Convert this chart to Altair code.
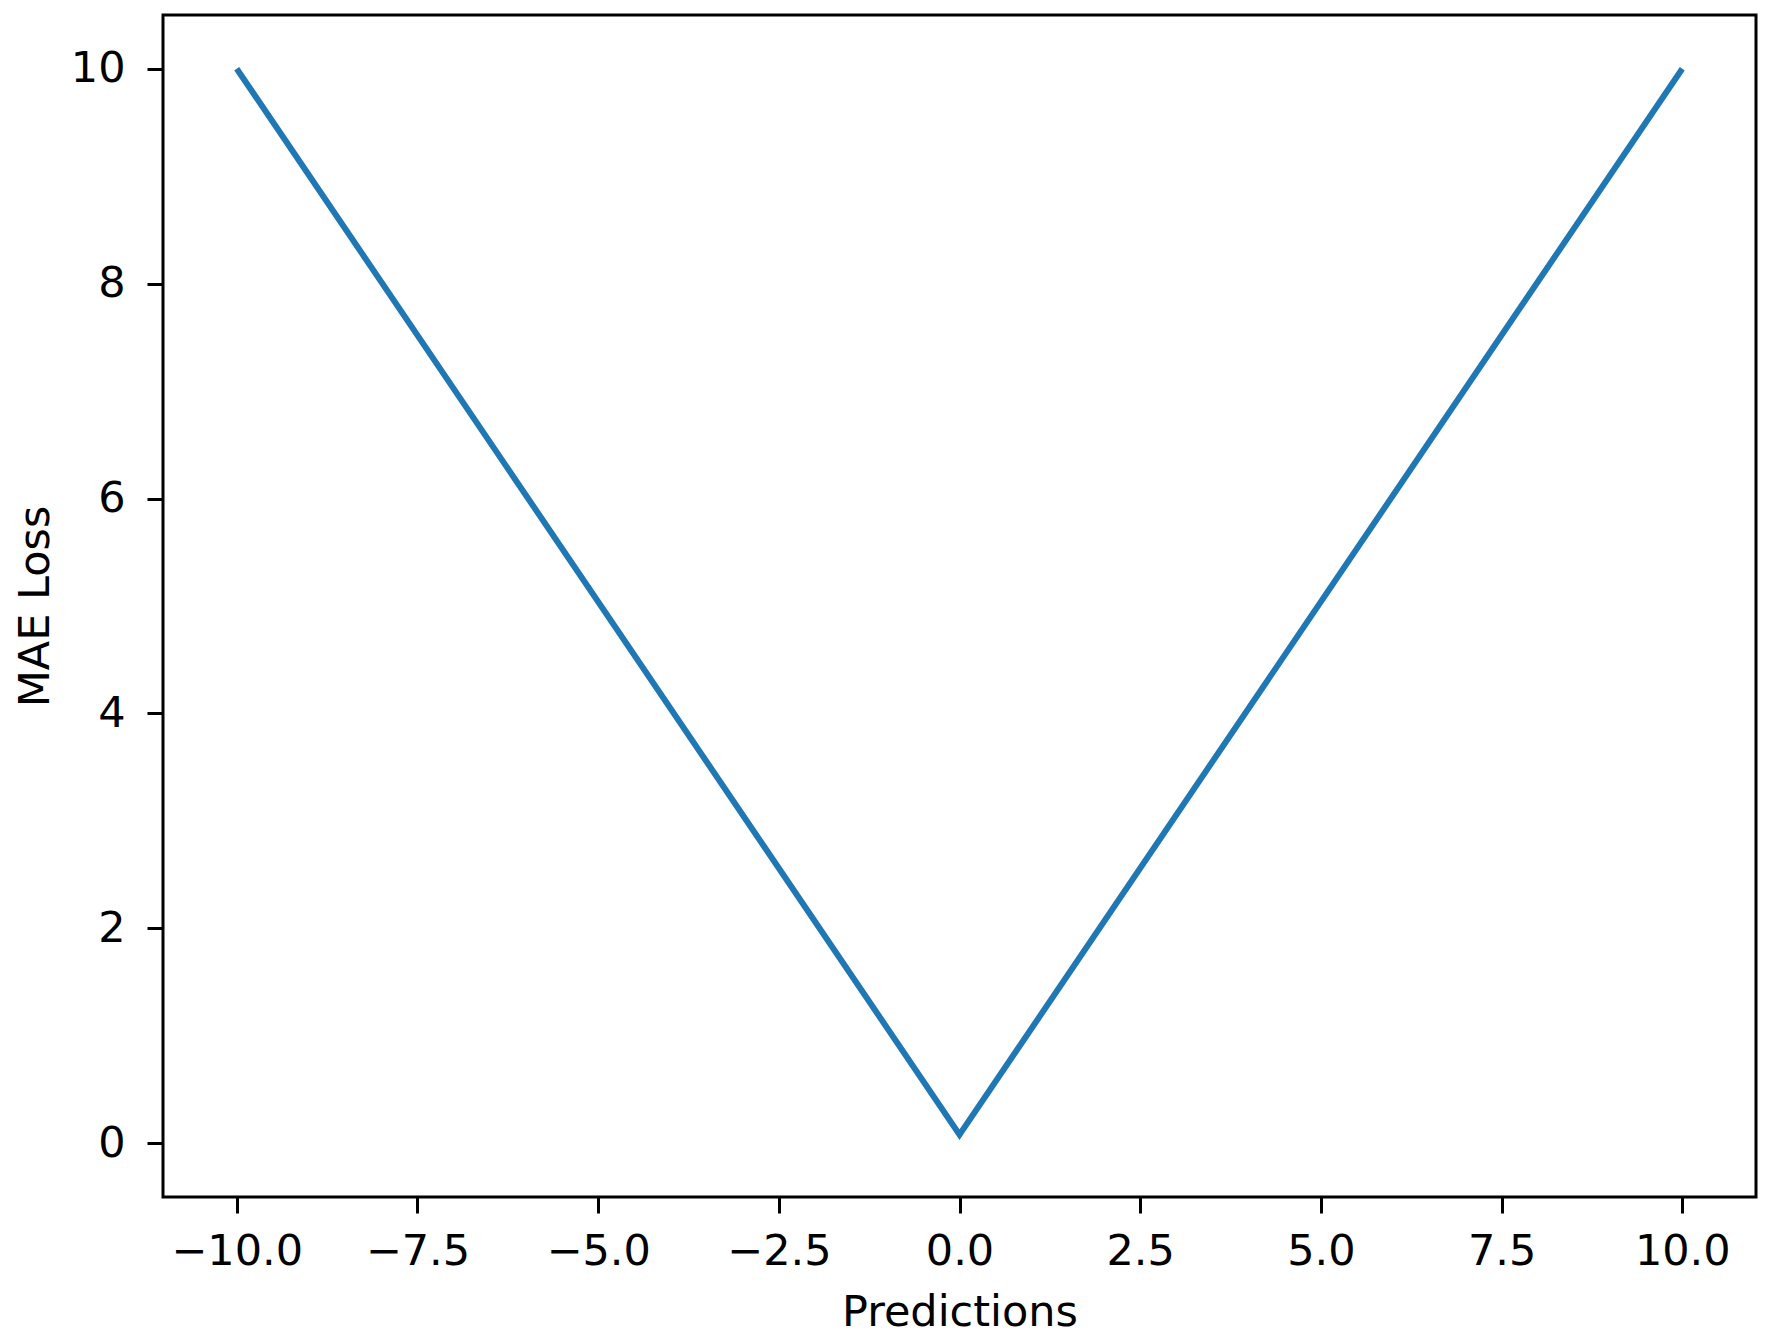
import altair as alt
import pandas as pd

# Data (V-shaped MAE loss curve)
predictions = [-10.0, 0.0, 10.0]
mae_loss = [10.0, 0.08, 10.0]

x_ticks = [-10.0, -7.5, -5.0, -2.5, 0.0, 2.5, 5.0, 7.5, 10.0]
y_ticks = [0, 2, 4, 6, 8, 10]

df = pd.DataFrame({"Predictions": predictions, "MAE Loss": mae_loss})

FONT = "DejaVu Sans"

chart = (
    alt.Chart(df)
    .mark_line(color="#1f77b4", strokeWidth=6)
    .encode(
        x=alt.X(
            "Predictions:Q",
            scale=alt.Scale(domain=[-11.02, 11.02], nice=False, zero=False),
            axis=alt.Axis(
                values=x_ticks,
                labelExpr="replace(format(datum.value, '.1f'), '-', '\u2212')",
                title="Predictions",
                grid=False,
                domain=False,
                tickSize=16,
                tickWidth=3,
                tickColor="black",
                labelPadding=17,
                labelFontSize=43,
                labelFont=FONT,
                labelColor="black",
                titleFontSize=43,
                titleFont=FONT,
                titleFontWeight="normal",
                titleColor="black",
                titlePadding=18,
                labelFlush=False,
                labelOverlap=False,
            ),
        ),
        y=alt.Y(
            "MAE Loss:Q",
            scale=alt.Scale(domain=[-0.5, 10.5], nice=False, zero=False),
            axis=alt.Axis(
                values=y_ticks,
                format="d",
                title="MAE Loss",
                grid=False,
                domain=False,
                tickSize=16,
                tickWidth=3,
                tickColor="black",
                labelPadding=22,
                labelFontSize=43,
                labelFont=FONT,
                labelColor="black",
                titleFontSize=43,
                titleFont=FONT,
                titleFontWeight="normal",
                titleColor="black",
                titlePadding=13,
                labelFlush=False,
                labelOverlap=False,
            ),
        ),
    )
    .properties(
        width=1593,
        height=1182,
        autosize=alt.AutoSizeParams(type="none"),
        padding={"left": 155, "top": 7, "right": 8, "bottom": 140},
        background="white",
    )
    .configure_view(stroke="black", strokeWidth=3)
)

chart.save("out.html", embed_options={"renderer": "svg", "actions": False})
